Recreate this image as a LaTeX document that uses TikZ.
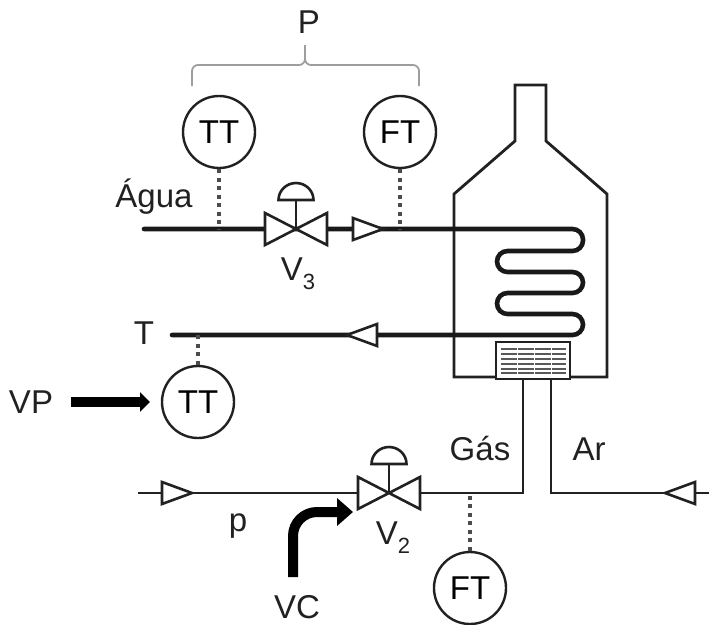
\documentclass[tikz,border=0pt]{standalone}
\usepackage{fontspec}
\setmainfont{Liberation Sans}
\usetikzlibrary{
  	calc,
  	positioning,
  	arrows.meta
  }
\definecolor{bracegray}{gray}{0.62}
\definecolor{inkgray}{gray}{0.13}
\tikzstyle{inst}=[circle,draw=inkgray,line width=2.4pt,minimum size=72pt,inner sep=0pt]
\tikzstyle{label}=[inner sep=0pt,text=inkgray]
\tikzstyle{pipe}=[line width=4.6pt,line cap=round,black!90]
\tikzstyle{gasline}=[line width=2.8pt,inkgray]
\tikzstyle{wall}=[line width=2.8pt,inkgray,line join=miter]
\tikzstyle{signal}=[line width=3.6pt,draw=black!70,dash pattern=on 4pt off 4.5pt]
\tikzstyle{part}=[line width=2.6pt,draw=inkgray,fill=white,line join=miter]
\newcommand{\lowidx}[1]{\raisebox{-9pt}{\fontsize{22}{24}\selectfont #1}}
% valve with its actuator
\newcommand{\valve}[2]{
  \coordinate (#1) at (#2);
  \draw[part] ($(#1)+(-31,-16)$) -- ($(#1)+(-31,16)$) -- ($(#1)+(31,-16)$) -- ($(#1)+(31,16)$) -- cycle;
  \draw[part,fill=none] (#1) -- ($(#1)+(0,-29)$);
  \draw[part] ($(#1)+(17.5,-29)$) -- ($(#1)+(-17.5,-29)$)
     arc[start angle=-180,end angle=0,x radius=17.5,y radius=17] -- cycle;
}
% flow direction triangle, third argument 1 for right, -1 for left
\newcommand{\flowtip}[3]{
  \coordinate (#1) at (#2);
  \draw[part] ($(#1)+(-15*#3,-11)$) -- ($(#1)+(15*#3,0)$) -- ($(#1)+(-15*#3,11)$) -- cycle;
}
\begin{document}
\begin{tikzpicture}[x=1pt,y=-1pt,font=\fontsize{33}{36}\selectfont]
\useasboundingbox (0,0) rectangle (709,624);
% furnace
\draw[wall] (496,377) -- (454,377) -- (454,194) -- (515,141) -- (515,85) -- (546,85)
   -- (546,141) -- (607,194) -- (607,377) -- (570,377);
% instruments
\node[inst] (tt3) at (219,132) {TT};
\node[inst] (ft3) at (400,132) {FT};
\node[inst] (tt1) at (198,402) {TT};
\node[inst] (ft2) at (470,588) {FT};
% water line and coil
\coordinate (waterin) at (144,229);
\coordinate (teeT) at (219,229);
\coordinate (teeF) at (400,229);
\coordinate (waterout) at (172,335);
\coordinate (teeO) at (198,335);
\draw[pipe,rounded corners=10.5pt] (waterin) -- (583,229) -- (583,251) -- (497,251) -- (497,272)
   -- (583,272) -- (583,293) -- (497,293) -- (497,314) -- (583,314) -- (583,335) -- (waterout);
\draw[signal] (tt3) -- (teeT);
\draw[signal] (ft3) -- (teeF);
\draw[signal] (tt1) -- (teeO);
\valve{v3}{296,229}
\flowtip{f3}{368,229}{1}
\flowtip{f1}{362,335}{-1}
% burner
\draw[part] (496,342) rectangle (570,379);
\foreach \yy in {349,354,359,364,369,373} {
  \draw[line width=1.5pt,black!65,dash pattern=on 15.5pt off 1.5pt] (501,\yy) -- (566,\yy);
}
% gas and air
\coordinate (gasin) at (138,493);
\coordinate (teeG) at (470,493);
\coordinate (gasup) at (523,493);
\coordinate (gastop) at (523,379);
\coordinate (airin) at (709,493);
\coordinate (airup) at (551,493);
\coordinate (airtop) at (551,379);
\draw[gasline,line join=miter] (gasin) -- (gasup) -- (gastop);
\draw[gasline,line join=miter] (airin) -- (airup) -- (airtop);
\draw[signal] (ft2) -- (teeG);
\valve{v2}{389,493}
\flowtip{f2}{177,493}{1}
\flowtip{f4}{680,493}{-1}
% grouping brace
\coordinate (braceL) at (192,86);
\coordinate (braceR) at (419,86);
\coordinate (braceT) at (305,45);
\draw[bracegray,line width=1.8pt,rounded corners=6pt] (braceL) -- (192,65) -- (305,65) -- (braceT);
\draw[bracegray,line width=1.8pt,rounded corners=6pt] (braceR) -- (419,65) -- (305,65) -- (braceT);
% signal arrows
\coordinate (vpstart) at (71,402);
\coordinate (vpend) at (150,402);
\coordinate (vcstart) at (293,577);
\coordinate (vcend) at (353,512);
\draw[line width=10pt,-{Triangle[length=10pt,width=19pt]}] (vpstart) -- (vpend);
\draw[line width=10pt,-{Triangle[length=16pt,width=27pt]},rounded corners=24pt] (vcstart) -- (293,512) -- (vcend);
% texts
\node[label] (lp) at (309,22) {P};
\node[label] (lagua) at (154,197) {Água};
\node[label] (lv3) at (298,274) {V\lowidx{3}};
\node[label] (lt) at (144,333) {T};
\node[label] (lvp) at (31,402) {VP};
\node[label] (lgas) at (480,449) {Gás};
\node[label] (lar) at (589,449) {Ar};
\node[label] (lpp) at (238,526) {p};
\node[label] (lv2) at (393,538) {V\lowidx{2}};
\node[label] (lvc) at (297,607) {VC};
\end{tikzpicture}
\end{document}
